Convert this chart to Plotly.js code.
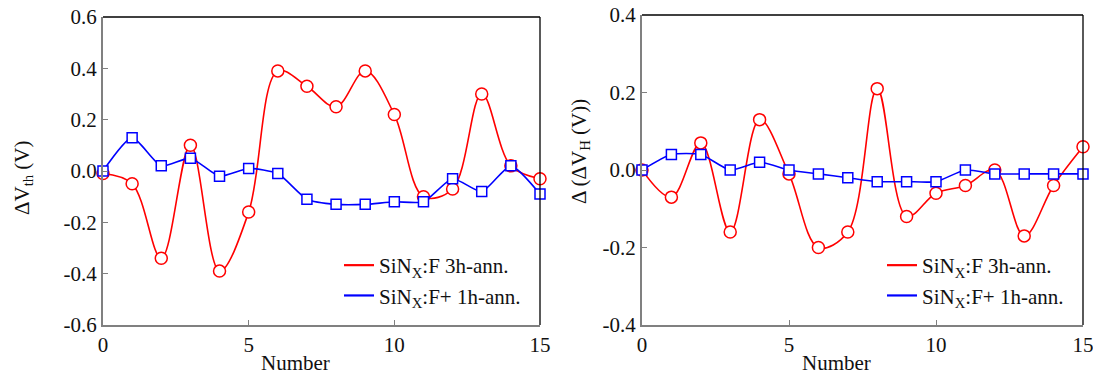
<!DOCTYPE html>
<html>
<head>
<meta charset="utf-8">
<script src="https://cdn.plot.ly/plotly-3.0.1.min.js"></script>
<style>html,body{margin:0;padding:0;background:#fff;}#chart{width:1093px;height:378px;}</style>
</head>
<body>
<div id="chart"></div>
<script>
// ---- data ----
const numbers = [0,1,2,3,4,5,6,7,8,9,10,11,12,13,14,15];
const vthF3h  = [-0.01,-0.05,-0.34,0.10,-0.39,-0.16,0.39,0.33,0.25,0.39,0.22,-0.10,-0.07,0.30,0.02,-0.03];
const vthF1h  = [0.00,0.13,0.02,0.05,-0.02,0.01,-0.01,-0.11,-0.13,-0.13,-0.12,-0.12,-0.03,-0.08,0.02,-0.09];
const vhF3h   = [0.00,-0.07,0.07,-0.16,0.13,-0.01,-0.20,-0.16,0.21,-0.12,-0.06,-0.04,0.00,-0.17,-0.04,0.06];
const vhF1h   = [0.00,0.04,0.04,0.00,0.02,0.00,-0.01,-0.02,-0.03,-0.03,-0.03,0.00,-0.01,-0.01,-0.01,-0.01];
const seriesNames = ["SiN<sub>X</sub>:F 3h-ann.", "SiN<sub>X</sub>:F+ 1h-ann."];
const xTicks = [0,5,10,15];
const xTickText = ["0","5","10","15"];
const yTicksL = [0.6,0.4,0.2,0.0,-0.2,-0.4,-0.6];
const yTickTextL = ["0.6","0.4","0.2","0.0","-0.2","-0.4","-0.6"];
const yTicksR = [0.4,0.2,0.0,-0.2,-0.4];
const yTickTextR = ["0.4","0.2","0.0","-0.2","-0.4"];
const xTitle = "Number";
const yTitleL = "ΔV<sub>th</sub> (V)";
const yTitleR = "Δ (ΔV<sub>H</sub> (V))";

const FONT = "Liberation Serif";
const RED = "#ff0000", BLUE = "#0000ff", GRAY = "#808080";

function series(x, y, color, size, xa, ya, sm, sym) {
  return {x: x, y: y, xaxis: xa, yaxis: ya, mode: "lines+markers", showlegend: false,
    line: {color: color, width: 1.6, shape: "spline", smoothing: sm},
    marker: {symbol: sym, size: size, color: "#ffffff", line: {color: color, width: 1.5}},
    cliponaxis: false, hoverinfo: "x+y"};
}
function legendItem(name, color, leg, xa, ya) {
  return {x: [null], y: [null], xaxis: xa, yaxis: ya, mode: "lines", name: name, legend: leg,
    line: {color: color, width: 2.2}, showlegend: true};
}

const data = [
  series(numbers, vthF3h, RED, 12, "x", "y", 1, "circle"),
  series(numbers, vthF1h, BLUE, 10, "x", "y", 0.6, "square"),
  series(numbers, vhF3h, RED, 12, "x2", "y2", 1, "circle"),
  series(numbers, vhF1h, BLUE, 10, "x2", "y2", 0.6, "square"),
  legendItem(seriesNames[0], RED, "legend", "x", "y"),
  legendItem(seriesNames[1], BLUE, "legend", "x", "y"),
  legendItem(seriesNames[0], RED, "legend2", "x2", "y2"),
  legendItem(seriesNames[1], BLUE, "legend2", "x2", "y2")
];

function xaxis(domain, anchor) {
  return {domain: domain, anchor: anchor, range: [0, 15], tickvals: xTicks, ticktext: xTickText,
    ticks: "inside", ticklen: 5, tickwidth: 1, tickcolor: GRAY, showline: true, linecolor: GRAY, linewidth: 2,
    showgrid: false, zeroline: false, ticklabeloverflow: "allow",
    tickfont: {family: FONT, size: 21, color: "#111"}, automargin: false};
}
function yaxis(domain, anchor, range, vals, text) {
  return {domain: domain, anchor: anchor, range: range, tickvals: vals, ticktext: text,
    ticks: "inside", ticklen: 5, tickwidth: 1, tickcolor: GRAY, showline: true, linecolor: GRAY, linewidth: 2,
    showgrid: false, zeroline: false, ticklabeloverflow: "allow",
    tickfont: {family: FONT, size: 21, color: "#111"}, automargin: false};
}
function frame(xa, ya) {
  const xd = xa + " domain", yd = ya + " domain";
  return [
    {type: "line", xref: xd, yref: yd, x0: 0, x1: 1, y0: 1, y1: 1, line: {color: "#000", width: 1.3}},
    {type: "line", xref: xd, yref: yd, x0: 1, x1: 1, y0: 0, y1: 1, line: {color: "#000", width: 1.3}}
  ];
}
function ann(text, x, y, angle) {
  return {text: text, xref: "paper", yref: "paper", x: x / 1093, y: 1 - y / 378, showarrow: false,
    textangle: angle, xanchor: "center", yanchor: "middle", font: {family: FONT, size: 21, color: "#111"}};
}

const legendBase = {bgcolor: "rgba(0,0,0,0)", borderwidth: 0, font: {family: FONT, size: 21, color: "#111"},
  xanchor: "left", yanchor: "top", tracegroupgap: 0, itemwidth: 30};

const layout = {
  width: 1093, height: 378, margin: {l: 0, r: 0, t: 0, b: 0},
  paper_bgcolor: "#fff", plot_bgcolor: "#fff",
  font: {family: FONT, size: 21, color: "#111"},
  xaxis: xaxis([103 / 1093, 540 / 1093], "y"),
  yaxis: yaxis([1 - 325 / 378, 1 - 17 / 378], "x", [-0.6, 0.6], yTicksL, yTickTextL),
  xaxis2: xaxis([642 / 1093, 1083 / 1093], "y2"),
  yaxis2: yaxis([1 - 325 / 378, 1 - 15 / 378], "x2", [-0.4, 0.4], yTicksR, yTickTextR),
  legend: Object.assign({}, legendBase, {x: 339 / 1093, y: 1 - 245 / 378}),
  legend2: Object.assign({}, legendBase, {x: 882 / 1093, y: 1 - 245 / 378}),
  shapes: frame("x", "y").concat(frame("x2", "y2")),
  annotations: [
    ann(xTitle, 295, 363, 0),
    ann(xTitle, 836, 363, 0),
    ann(yTitleL, 23, 178, -90),
    ann(yTitleR, 580, 152, -90)
  ]
};

Plotly.newPlot("chart", data, layout, {displayModeBar: false, staticPlot: true});
</script>
</body>
</html>
